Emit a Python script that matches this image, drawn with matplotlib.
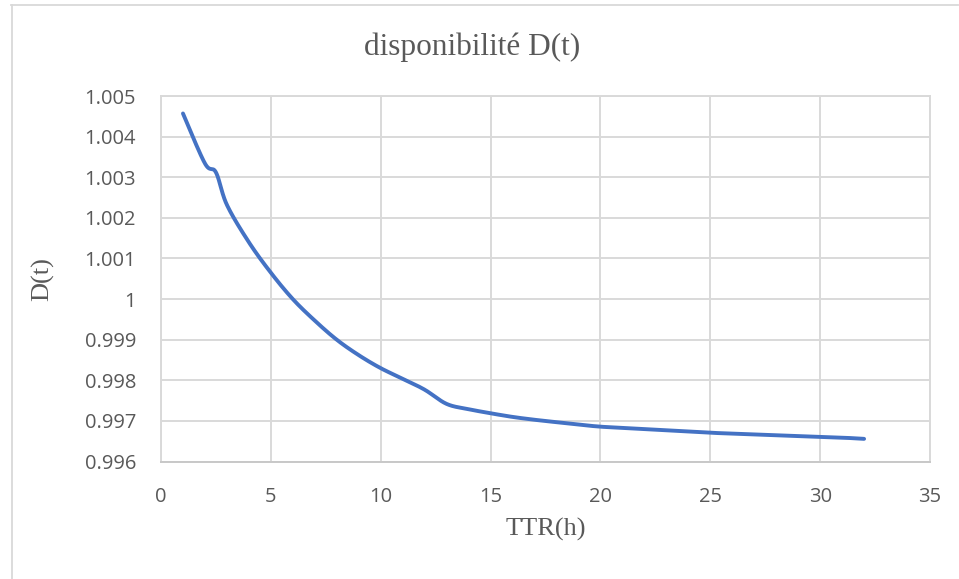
import numpy as np
import matplotlib
matplotlib.use("Agg")
import matplotlib.pyplot as plt
from matplotlib.lines import Line2D

# Availability D(t) versus repair time TTR (hours)
ttr = [1, 2, 2.5, 3, 4, 5, 6, 7, 8, 9, 10, 11, 12, 13, 14, 15, 16, 17, 18, 19,
       20, 21, 22, 23, 24, 25, 26, 27, 28, 29, 30, 31, 32]
dispo = [1.00457, 1.00334, 1.00312, 1.00232, 1.00140, 1.00065, 1.00000,
         0.99947, 0.99900, 0.99862, 0.99830, 0.99804, 0.99777, 0.99742,
         0.99729, 0.99719, 0.99710, 0.99703, 0.99697, 0.99691, 0.99686,
         0.99683, 0.99680, 0.99677, 0.99674, 0.99671, 0.99669, 0.99667,
         0.99665, 0.99663, 0.99661, 0.99659, 0.99656]

x_ticks = [0, 5, 10, 15, 20, 25, 30, 35]
y_ticks = [0.996, 0.997, 0.998, 0.999, 1.0, 1.001, 1.002, 1.003, 1.004, 1.005]
y_tick_labels = ["0.996", "0.997", "0.998", "0.999", "1", "1.001", "1.002",
                 "1.003", "1.004", "1.005"]

title = "disponibilité D(t)"
x_label = "TTR(h)"
y_label = "D(t)"

LINE = "#4472C4"
GRID = "#D9D9D9"
TEXT = "#595959"


def smooth_curve(xs, ys, n=40):
    """Cubic Bezier spline through the points (Catmull-Rom control points)."""
    p = np.column_stack([xs, ys]).astype(float)
    ext = np.vstack([p[0], p, p[-1]])
    out = []
    t = np.linspace(0, 1, n)[:, None]
    for i in range(len(p) - 1):
        p0, p1, p2, p3 = ext[i], ext[i + 1], ext[i + 2], ext[i + 3]
        c1 = p1 + (p2 - p0) / 6.0
        c2 = p2 - (p3 - p1) / 6.0
        seg = ((1 - t) ** 3) * p1 + 3 * ((1 - t) ** 2) * t * c1 \
            + 3 * (1 - t) * t ** 2 * c2 + t ** 3 * p2
        out.append(seg if i == 0 else seg[1:])
    out = np.vstack(out)
    return out[:, 0], out[:, 1]


fig = plt.figure(figsize=(9.59, 5.79), dpi=100)
fig.patch.set_facecolor("white")

# chart area border (top and left edges)
fig.add_artist(Line2D([11 / 959, 958 / 959], [1 - 5 / 579, 1 - 5 / 579],
                      transform=fig.transFigure, color=GRID, lw=1.3))
fig.add_artist(Line2D([12 / 959, 12 / 959], [0, 1 - 5 / 579],
                      transform=fig.transFigure, color=GRID, lw=1.3))

ax = fig.add_axes([161 / 959, 1 - 461.6 / 579, (930 - 161) / 959,
                   (461.6 - 96) / 579])

sx, sy = smooth_curve(ttr, dispo)
ax.plot(sx, sy, color=LINE, lw=2.8, solid_capstyle="round", zorder=3)

ax.set_xlim(0, 35)
ax.set_ylim(0.996, 1.005)
ax.set_xticks(x_ticks)
ax.set_yticks(y_ticks)
ax.set_yticklabels(y_tick_labels)
ax.grid(True, color=GRID, lw=1.4)
ax.set_axisbelow(True)
for side, sp in ax.spines.items():
    sp.set_color(GRID)
    sp.set_linewidth(1.4)
ax.spines["bottom"].set_color("#C8C8C8")
ax.tick_params(length=0, colors=TEXT, labelsize=14.5)
ax.tick_params(axis="y", pad=18)
ax.tick_params(axis="x", pad=18)
for lab in ax.get_xticklabels() + ax.get_yticklabels():
    lab.set_fontfamily("Open Sans")

ax.set_xlabel(x_label, fontfamily="Liberation Serif", fontsize=19,
              color=TEXT, labelpad=8)
ax.set_ylabel(y_label, fontfamily="Liberation Serif", fontsize=19,
              color=TEXT, labelpad=22)
fig.text(472 / 959, 1 - 47 / 579, title, fontfamily="Liberation Serif",
         fontsize=22.5, color=TEXT, ha="center", va="center")

fig.savefig("out.png", dpi=100, facecolor="white")
